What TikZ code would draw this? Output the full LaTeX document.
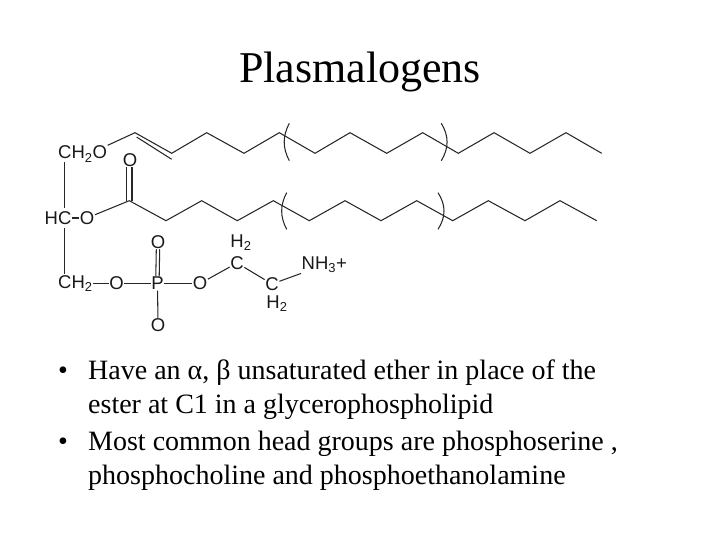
\documentclass[tikz,border=0pt]{standalone}
\usepackage{fontspec}
\setmainfont{Liberation Serif}
\setsansfont{Liberation Sans}
\usetikzlibrary{positioning}
\tikzstyle{bond} = [line width=1.05pt,line join=miter,color=black!85]
\tikzstyle{atom} = [inner sep=0.5pt,font=\sffamily\fontsize{18.5}{18.5}\selectfont,color=black!90]
\tikzstyle{bullettext} = [anchor=north west,inner sep=0pt,align=left,font=\fontsize{28}{34}\selectfont]
\begin{document}
\begin{tikzpicture}[x=1pt,y=-1pt]
\useasboundingbox (0,0) rectangle (720,540);
% Title
\node (title) [inner sep=0pt,font=\fontsize{44}{44}\selectfont] at (360,72) {Plasmalogens};

% Glycerol backbone
\node (ch2o) [atom,anchor=west] at (57.5,154) {CH\textsubscript{2}O};
\node (hc) [atom,anchor=west] at (44,218) {HC};
\node (ho) [atom] at (87,218) {O};
\node (ch2) [atom,anchor=west] at (57.5,283.5) {CH\textsubscript{2}};

% Phosphate head group
\node (o1) [atom] at (116.5,283.5) {O};
\node (p) [atom] at (157.5,283.5) {P};
\node (o2) [atom] at (200,283.5) {O};
\node (oup) [atom] at (158,242) {O};
\node (odown) [atom] at (158,325) {O};
\node (c1) [atom] at (237,263) {C};
\node (c2) [atom] at (272,284) {C};
\node (h1) [atom] at (241,243) {H\textsubscript{2}};
\node (h2) [atom] at (277,304) {H\textsubscript{2}};
\node (nh3) [atom,anchor=west] at (301,265) {NH\textsubscript{3}+};
\node (oc) [atom] at (130,160) {O};

% Chain vertices
\foreach \name/\x/\y in {ua/135/132.7,ub/171.7/153.3,uc/206.7/132.7,ud/244/153.3,ue/279.3/132.7,uf/315/153.3,ug/350/132.7,uh/386.7/153.3,ui/422.7/132.7,uj/458.3/153.3,uk/494/132.7,ul/530/153.3,um/566/132.7,un/601.7/153.3,
  la/129.3/200.7,lb/166/220.7,lc/201.7/200.7,ld/237.3/220.7,le/273.3/200.7,lf/309.3/220.7,lg/345/200.7,lh/381/220.7,li/416.7/200.7,lj/452.7/220.7,lk/488.3/200.7,ll/525/220.7,lm/560/200.7,ln/596.7/220.7}
  \coordinate (\name) at (\x,\y);

% Upper chain
\draw[bond] (ch2o.north east) -- (ua) -- (ub) -- (uc) -- (ud) -- (ue) -- (uf) -- (ug) -- (uh) -- (ui) -- (uj) -- (uk) -- (ul) -- (um) -- (un);
\draw[bond] ([xshift=1.7pt,yshift=-4.4pt]ua) -- ([yshift=-6pt]ub);

% Lower chain
\draw[bond] (ho) -- (la) -- (lb) -- (lc) -- (ld) -- (le) -- (lf) -- (lg) -- (lh) -- (li) -- (lj) -- (lk) -- (ll) -- (lm) -- (ln);
\draw[bond] ([xshift=-2.7pt]la) -- ([xshift=-2.7pt]la |- oc.south);
\draw[bond] ([xshift=2.7pt]la) -- ([xshift=2.7pt]la |- oc.south);

% Brackets
\draw[bond] (289.3,123.3) .. controls (282.5,136) and (282.5,148) .. (289.3,160.7);
\draw[bond] (441.3,123.3) .. controls (449,136) and (449,148) .. (441.3,160.7);
\draw[bond] (286.7,192.7) .. controls (280,205) and (280,217) .. (286.7,229.3);
\draw[bond] (438,192.7) .. controls (446,205) and (446,217) .. (438,229.3);

% Backbone bonds
\coordinate (ch2otop) at (64.5,162);
\coordinate (hctop) at (64.5,208);
\coordinate (hcbot) at (64.5,228);
\coordinate (ch2top) at (64.5,274);
\draw[bond] (ch2otop) -- (hctop);
\draw[bond] (hcbot) -- (ch2top);
\draw[bond] (hc) -- (ho);
\draw[bond] (ch2) -- (o1);
\draw[bond] (o1) -- (p);
\draw[bond] (p) -- (o2);
\draw[bond] (p) -- (odown);
\draw[bond] ([xshift=-1.7pt]p.north) -- ([xshift=-1.7pt]oup.south);
\draw[bond] ([xshift=1.7pt]p.north) -- ([xshift=1.7pt]oup.south);
\draw[bond] (o2) -- (c1);
\draw[bond] (c1) -- (c2);
\draw[bond] (c2) -- (nh3);

% Bullets
\node (item1) [bullettext] at (58,355) {\strut•};
\node (text1) [bullettext] at (88,355) {\strut Have an α, β unsaturated ether in place of the\\ester at C1 in a glycerophospholipid};
\node (item2) [bullettext] at (58,426) {\strut•};
\node (text2) [bullettext] at (88,426) {\strut Most common head groups are phosphoserine ,\\phosphocholine and phosphoethanolamine};
\end{tikzpicture}
\end{document}
